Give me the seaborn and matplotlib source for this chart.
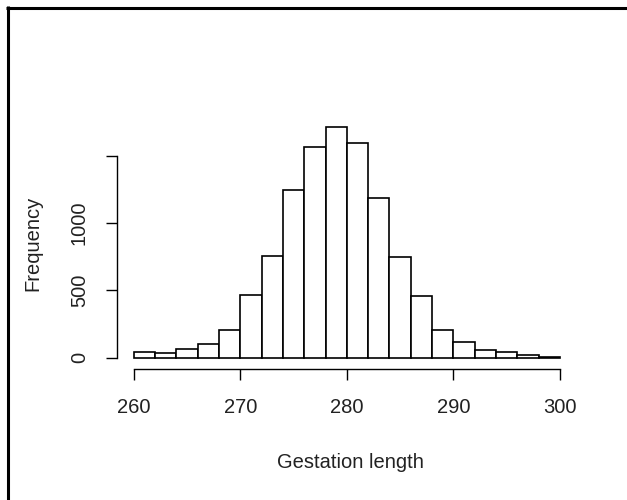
import numpy as np
import matplotlib
matplotlib.use("Agg")
import matplotlib.pyplot as plt
from matplotlib.lines import Line2D
import seaborn as sns

# histogram of gestation length (bin width 2 days)
bin_edges = list(range(260, 302, 2))
counts = [40, 37, 62, 104, 208, 468, 758, 1247, 1569, 1713,
          1599, 1185, 751, 458, 208, 114, 55, 42, 20, 7]
x_ticks = [260, 270, 280, 290, 300]
y_ticks = [0, 500, 1000, 1500]
y_tick_labels = ["0", "500", "1000", ""]

sns.set_style("white")
plt.rcParams['font.family'] = ['Liberation Sans', 'DejaVu Sans']

fig = plt.figure(figsize=(6.27, 5.0), dpi=100)
W, H = 627, 500
# axes box in pixels (R style plot region)
left, right, top, bottom = 116.7, 577.0, 118.6, 369.0
ax = fig.add_axes([left / W, 1 - bottom / H, (right - left) / W, (bottom - top) / H])

centers = [(a + b) / 2 for a, b in zip(bin_edges[:-1], bin_edges[1:])]
sns.histplot(x=centers, weights=counts, bins=bin_edges, ax=ax,
             color="white", edgecolor="black", linewidth=1.2, alpha=1)

ax.set_xlim(258.4, 301.6)
ax.set_ylim(-84, 1778)

for s in ["top", "right"]:
    ax.spines[s].set_visible(False)
ax.spines["left"].set_bounds(0, 1500)
ax.spines["bottom"].set_bounds(260, 300)
for s in ["left", "bottom"]:
    ax.spines[s].set_linewidth(1.0)
    ax.spines[s].set_color("black")

ax.set_xticks(x_ticks)
ax.set_xticklabels([str(t) for t in x_ticks])
ax.set_yticks(y_ticks)
ax.set_yticklabels(y_tick_labels, rotation=90, va="center")
ax.tick_params(axis="x", bottom=True, length=8, width=1.0, pad=13, labelsize=14.5,
               colors="black", labelcolor="#222222")
ax.tick_params(axis="y", left=True, length=8, width=1.0, pad=12, labelsize=14.5,
               colors="black", labelcolor="#222222")

ax.set_xlabel("Gestation length", fontsize=14.5, color="#222222", va="center")
ax.xaxis.set_label_coords((350 - left) / (right - left), (bottom - 462) / (bottom - top))
ax.set_ylabel("Frequency", fontsize=14.5, color="#222222", va="center")
ax.yaxis.set_label_coords((33 - left) / (right - left), (bottom - 243) / (bottom - top))

# black frame at top and left edge of the screenshot
fig.add_artist(Line2D([6 / W, 1], [1 - 7.5 / H, 1 - 7.5 / H], color="black", lw=2.2,
                      solid_capstyle="butt"))
fig.add_artist(Line2D([7.5 / W, 7.5 / W], [1 - 6 / H, 0], color="black", lw=2.2,
                      solid_capstyle="butt"))

fig.savefig("out.png", dpi=100, facecolor="white")
